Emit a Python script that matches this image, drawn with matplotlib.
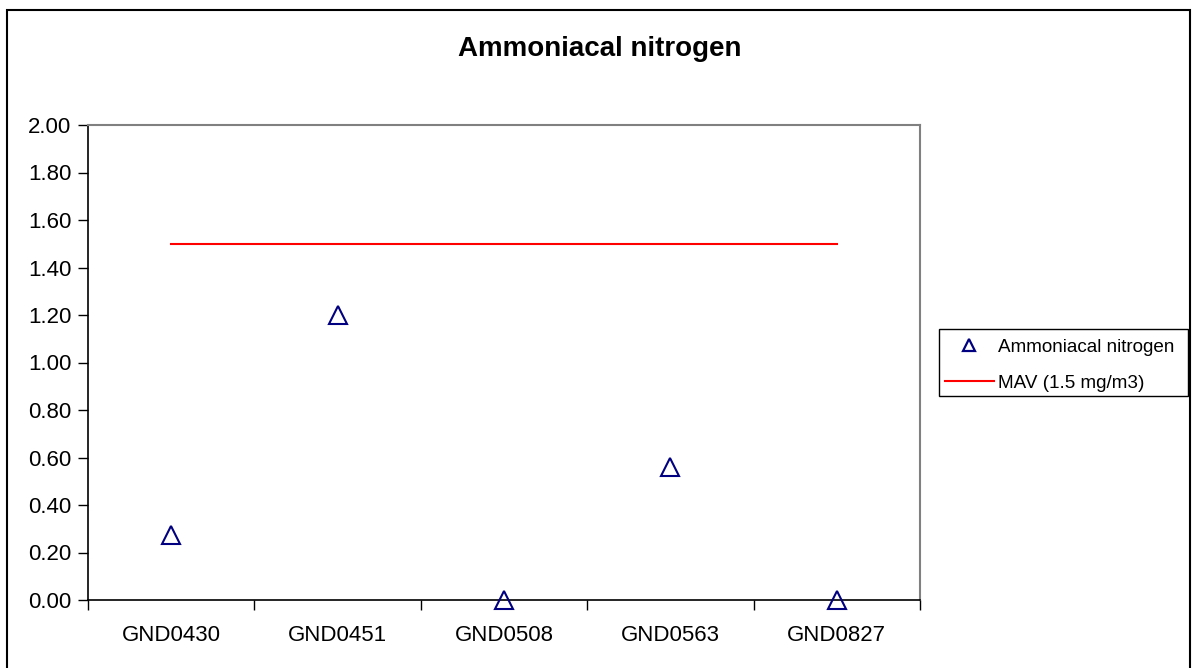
import matplotlib
matplotlib.use("Agg")
import matplotlib.pyplot as plt
from matplotlib.patches import Rectangle
from matplotlib.lines import Line2D

plt.rcParams['font.family'] = ['Liberation Sans', 'DejaVu Sans']

sites = ["GND0430", "GND0451", "GND0508", "GND0563", "GND0827"]
ammonia = [0.275, 1.20, 0.0, 0.56, 0.0]
mav_value = 1.5
y_ticks = [0.0, 0.2, 0.4, 0.6, 0.8, 1.0, 1.2, 1.4, 1.6, 1.8, 2.0]

W, H = 1197, 668
fig = plt.figure(figsize=(W / 100, H / 100), dpi=100)


def px_box(x0, y0, x1, y1, lw):
    """Rectangle given in pixel coordinates measured from the top-left corner."""
    return Rectangle((x0 / W, 1 - y1 / H), (x1 - x0) / W, (y1 - y0) / H,
                     transform=fig.transFigure, fill=False,
                     edgecolor="black", linewidth=lw)


# outer chart frame
fig.patches.append(px_box(7, 10, 1190, 675, 1.5))

ax = fig.add_axes([88 / W, 1 - 600 / H, (920 - 88) / W, (600 - 125) / H])
x = list(range(len(sites)))

ax.plot(x, ammonia, linestyle="none", marker="^", markersize=13.5,
        markerfacecolor="none", markeredgecolor="#000080", markeredgewidth=1.5,
        label="Ammoniacal nitrogen", clip_on=False, zorder=5)
ax.plot([x[0], x[-1]], [mav_value, mav_value], color="#ff0000", linewidth=1.5,
        label="MAV (1.5 mg/m3)")

ax.set_xlim(-0.5, len(sites) - 0.5)
ax.set_ylim(0, 2.0)
ax.set_yticks(y_ticks)
ax.set_yticklabels([f"{v:.2f}" for v in y_ticks])
ax.set_xticks([i - 0.5 for i in range(len(sites) + 1)])
ax.set_xticklabels([])
ax.set_xticks(x, minor=True)
ax.set_xticklabels(sites, minor=True)
ax.tick_params(axis="x", which="minor", length=0, pad=18, labelsize=16)
ax.tick_params(axis="x", which="major", length=7, width=1, color="black")
ax.tick_params(axis="y", length=7, width=1, labelsize=16, pad=5)

for side in ("left", "bottom"):
    ax.spines[side].set_color("black")
    ax.spines[side].set_linewidth(1.2)
for side in ("top", "right"):
    ax.spines[side].set_color("#808080")
    ax.spines[side].set_linewidth(1.5)

fig.text(600 / W, 1 - 49 / H, "Ammoniacal nitrogen", ha="center", va="center",
         fontsize=20, fontweight="bold")

handles = [
    Line2D([], [], linestyle="none", marker="^", markersize=8,
           markerfacecolor="none", markeredgecolor="#000080", markeredgewidth=1.6),
    Line2D([], [], color="#ff0000", linewidth=1.5),
]
fig.legend(handles, ["Ammoniacal nitrogen", "MAV (1.5 mg/m3)"],
           loc="upper left", bbox_to_anchor=(939 / W, 1 - 333 / H),
           frameon=False, fontsize=13.6, handlelength=2.6,
           handletextpad=0.2, borderpad=0.3, borderaxespad=0,
           labelspacing=1.0)
# legend frame
fig.patches.append(px_box(939, 329, 1188, 396, 1.0))

fig.savefig("out.png", dpi=100)
